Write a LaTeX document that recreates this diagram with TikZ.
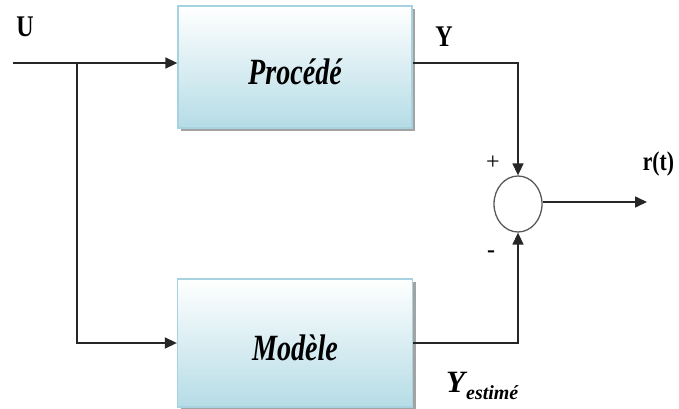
\documentclass[tikz,border=0pt]{standalone}
\usepackage{fontspec}
\setmainfont{Liberation Serif}
\usetikzlibrary{arrows.meta,shapes.geometric,shadows}

\definecolor{boxedge}{HTML}{A6D3DF}
\definecolor{boxbottom}{HTML}{B5DCE6}

\tikzset{
  block/.style={rectangle, draw=boxedge, line width=1.3pt,
    top color=white, bottom color=boxbottom,
    drop shadow={shadow xshift=3pt, shadow yshift=-3pt, fill=black!45, opacity=0.8},
    inner sep=0pt},
  sumjunction/.style={ellipse, draw=black!65, line width=1.3pt, fill=white,
    minimum width=48pt, minimum height=56pt, inner sep=0pt},
  wire/.style={line width=1.6pt, draw=black!85},
  arrowwire/.style={wire, -{Triangle[length=12pt,width=11pt]}},
  blocktext/.style={font=\fontsize{37}{40}\selectfont\bfseries\itshape, xscale=0.76},
  signal/.style={font=\fontsize{30}{34}\selectfont\bfseries, xscale=0.8},
  signstyle/.style={font=\fontsize{24}{26}\selectfont}
}

\begin{document}
\begin{tikzpicture}[x=1pt, y=-1pt]
  \useasboundingbox (0,0) rectangle (679,409);

  % blocks
  \node[block, minimum width=234pt, minimum height=122pt] (proc) at (295,67) {};
  \node[blocktext] (proctext) at (295,72) {Procédé};
  \node[block, minimum width=235pt, minimum height=128pt] (mod) at (295,343) {};
  \node[blocktext] (modtext) at (295,348) {Modèle};

  % summing junction
  \node[sumjunction] (sum) at (518,204) {};

  % signal points
  \coordinate (in) at (13,63);
  \coordinate (split) at (77,63);
  \coordinate (out) at (647,202);

  % connectors
  \draw[arrowwire] (in) -- (in -| proc.west);
  \draw[arrowwire] (split) |- (mod.west);
  \draw[arrowwire] (proc.east |- in) -| (sum.north);
  \draw[arrowwire] (mod.east) -| (sum.south);
  \draw[arrowwire] (sum.east |- out) -- (out);

  % labels
  \node[signal] (ulabel) at (25,27) {U};
  \node[signal] (ylabel) at (444,37) {Y};
  \node[font=\fontsize{27}{30}\selectfont\bfseries, xscale=0.8, anchor=west] (rlabel) at (640,164) {r(t)};
  \node[signstyle] (plus) at (493,163) {+};
  \node[signstyle, font=\fontsize{24}{26}\selectfont\bfseries] (minus) at (491,254) {-};
  \node[anchor=base west, inner sep=0pt] (yest) at (446,392)
    {\fontsize{31}{34}\selectfont\bfseries\itshape Y\kern1pt\raisebox{-7pt}{\fontsize{20}{22}\selectfont\bfseries\itshape estimé}};
\end{tikzpicture}
\end{document}
